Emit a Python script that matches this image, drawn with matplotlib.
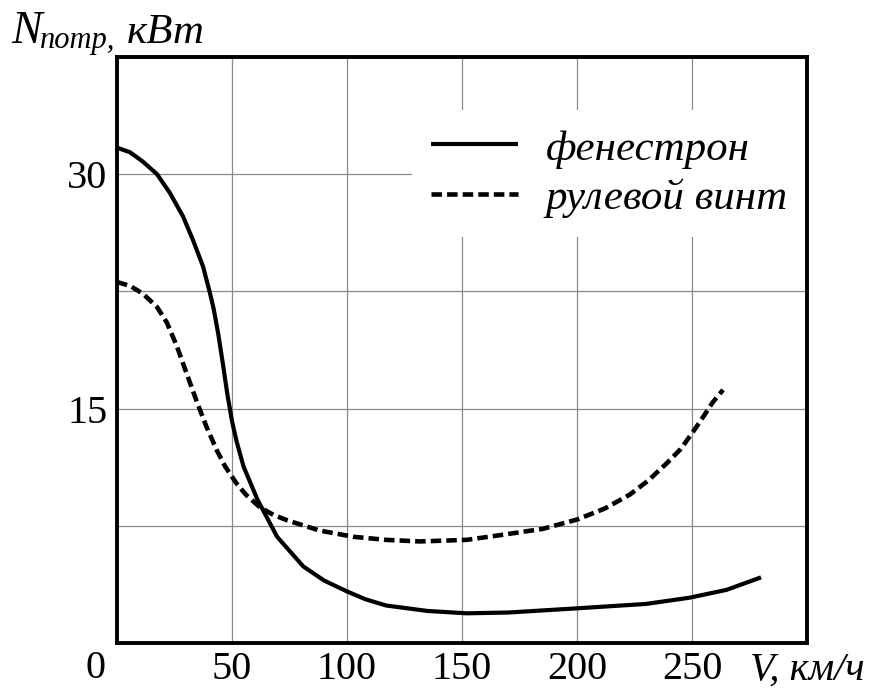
import matplotlib
matplotlib.use("Agg")
from matplotlib import pyplot as plt

# потребная мощность, кВт, в зависимости от скорости, км/ч
fen_v = [0, 5.7, 11.3, 17.4, 23, 28.7, 33, 37.4, 40.4, 42, 44, 46, 48, 50, 52, 55,
         61, 69.6, 81, 90, 100, 108, 117, 135, 152, 170, 198, 230, 249, 265, 280]
fen_n = [31.7, 31.4, 30.8, 30.0, 28.8, 27.3, 25.8, 24.1, 22.4, 21.4, 19.8, 17.9, 15.9, 14.2,
         12.9, 11.3, 9.2, 6.8, 4.9, 4.0, 3.3, 2.8, 2.4, 2.05, 1.9, 1.95, 2.2, 2.5, 2.9, 3.4, 4.2]

vint_v = [0, 5.7, 11.3, 17.4, 21.7, 26, 30.4, 34.8, 39, 43.5, 47, 52, 56, 62, 68, 74, 88,
          102.6, 117, 131.7, 152, 166.5, 185, 200, 212, 223, 231, 239, 245, 250.4, 255,
          259, 263.5]
vint_n = [23.1, 22.85, 22.35, 21.5, 20.5, 19.0, 17.2, 15.4, 13.8, 12.3, 11.3, 10.2, 9.5, 8.7,
          8.2, 7.85, 7.2, 6.8, 6.6, 6.5, 6.6, 6.9, 7.3, 7.9, 8.6, 9.5, 10.4, 11.5, 12.4, 13.5,
          14.5, 15.4, 16.2]

x_ticks = [0, 50, 100, 150, 200, 250, 300]
x_labels = ["", "50", "100", "150", "200", "250", "V, км/ч"]
y_ticks = [0, 7.5, 15, 22.5, 30, 37.5]
y_labels = ["", "", "15", "", "30", ""]

plt.rcParams["font.family"] = ["Liberation Serif", "DejaVu Serif"]

fig = plt.figure(figsize=(8.73, 6.89), dpi=100)
ax = fig.add_axes([117 / 873, 46 / 689, 690 / 873, 586 / 689])

ax.plot(fen_v, fen_n, color="k", lw=3.0, solid_capstyle="butt", solid_joinstyle="round",
        label="фенестрон", zorder=3)
ax.plot(vint_v, vint_n, color="k", lw=3.3, linestyle=(0, (2.3, 1.1)),
        dash_capstyle="butt", label="рулевой винт", zorder=3)

ax.set_xlim(0, 300)
ax.set_ylim(0, 37.5)
ax.set_xticks(x_ticks)
ax.set_xticklabels(x_labels)
ax.set_yticks(y_ticks)
ax.set_yticklabels(y_labels)
ax.get_xticklabels()[-1].set_fontstyle("italic")
ax.tick_params(length=0, labelsize=29)
ax.tick_params(axis="x", pad=6)
ax.tick_params(axis="y", pad=7)
ax.grid(True, color="#8a8a8a", lw=0.9)
ax.set_axisbelow(True)
for s in ax.spines.values():
    s.set_linewidth(2.8)

# общий ноль в углу
ax.text(-0.016, -0.012, "0", transform=ax.transAxes, ha="right", va="top", fontsize=29)

# подпись оси Y: N с нижним индексом
fig.text(11 / 873, 1 - 43 / 689, "N", fontsize=33, fontstyle="italic", ha="left", va="baseline")
fig.text(40 / 873, 1 - 48 / 689, "потр,", fontsize=22, fontstyle="italic", ha="left",
         va="baseline")
fig.text(127 / 873, 1 - 43 / 689, "кВт", fontsize=31, fontstyle="italic", ha="left",
         va="baseline")

leg = ax.legend(loc="upper right", bbox_to_anchor=(1.0, (643 - 110) / 586), frameon=True,
                fancybox=False, framealpha=1, edgecolor="none", facecolor="white",
                handlelength=2.0, handletextpad=0.65, borderpad=0.45,
                labelspacing=0.22, borderaxespad=0.0,
                prop={"family": "Liberation Serif", "style": "italic", "size": 31})
leg.set_zorder(2)

fig.savefig("out.png", dpi=100)
